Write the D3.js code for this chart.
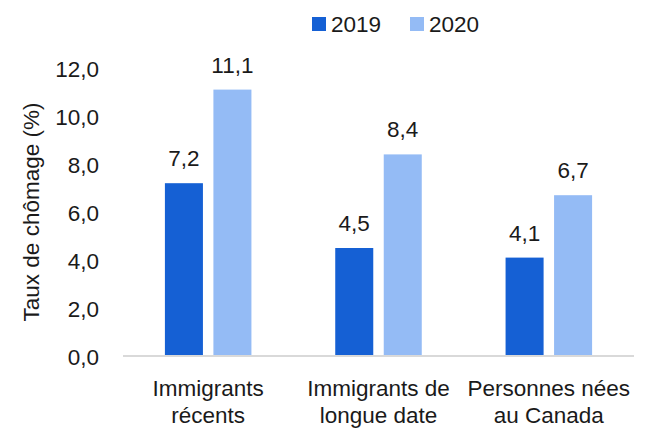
<!DOCTYPE html>
<html>
<head>
<meta charset="utf-8">
<script src="https://cdn.jsdelivr.net/npm/d3@7"></script>
<style>
  body { margin: 0; background: #fff; }
  text { font-family: "Liberation Sans", Arial, sans-serif; fill: #1a1a1a; }
</style>
</head>
<body>
<div class="chart"></div>
<script>
(function() {
    const width = 647
    const height = 429

    const categories = [["Immigrants", "récents"], ["Immigrants de", "longue date"], ["Personnes nées", "au Canada"]]
    const series = ["2019", "2020"]
    const values2019 = [7.2, 4.5, 4.1]
    const values2020 = [11.1, 8.4, 6.7]
    const yTicks = [0, 2, 4, 6, 8, 10, 12]
    const colors = ["#1560d4", "#94bbf5"]

    const margin = {top: 68, right: 13, bottom: 73, left: 123}
    const fontSize = 22.5

    const svg = d3.select(".chart")
        .append('svg')
        .attr('width', width)
        .attr('height', height)
        .attr('viewBox', `0 0 ${width} ${height}`)

    const x = d3.scaleBand()
        .domain(d3.range(categories.length))
        .range([margin.left, width - margin.right])

    const x1 = d3.scaleBand()
        .domain(series)
        .range([0, x.bandwidth()])
        .paddingInner(0.216)
        .paddingOuter(0.864)

    const y = d3.scaleLinear()
        .domain([0, 12])
        .range([height - margin.bottom, margin.top])

    const fmt = v => d3.format(".1f")(v).replace(".", ",")

    // y tick labels (no axis line)
    const yAxis = svg.append('g')
        .attr('transform', `translate(${margin.left - 24},0)`)
        .call(d3.axisLeft(y).tickValues(yTicks).tickFormat(fmt).tickSize(0).tickPadding(0))
    yAxis.select('.domain').remove()
    yAxis.selectAll('text')
        .attr('font-family', null)
        .attr('font-size', fontSize)
        .attr('dy', '0.36em')

    // bars
    const rows = series.map((s, i) => ({s: s, vals: i === 0 ? values2019 : values2020, color: colors[i]}))
    rows.forEach(r => {
        const g = svg.append('g')
        g.selectAll('rect')
            .data(r.vals)
            .join('rect')
            .attr('x', (d, i) => x(i) + x1(r.s))
            .attr('y', d => y(d))
            .attr('width', x1.bandwidth())
            .attr('height', d => y(0) - y(d))
            .attr('fill', r.color)
        g.selectAll('text')
            .data(r.vals)
            .join('text')
            .attr('x', (d, i) => x(i) + x1(r.s) + x1.bandwidth() / 2)
            .attr('y', d => y(d) - 17)
            .attr('text-anchor', 'middle')
            .attr('font-size', fontSize)
            .text(fmt)
    })

    // baseline
    svg.append('line')
        .attr('x1', margin.left)
        .attr('x2', width - margin.right)
        .attr('y1', y(0))
        .attr('y2', y(0))
        .attr('stroke', '#d9d9d9')
        .attr('stroke-width', 2)

    // category labels
    const xl = svg.append('g')
    categories.forEach((c, i) => {
        const cx = x(i) + x.bandwidth() / 2
        const t = xl.append('text')
            .attr('x', cx)
            .attr('y', 396)
            .attr('text-anchor', 'middle')
            .attr('font-size', fontSize)
        c.forEach((line, j) => {
            t.append('tspan')
                .attr('x', cx)
                .attr('dy', j === 0 ? 0 : 27)
                .text(line)
        })
    })

    // y title
    svg.append('text')
        .attr('transform', `translate(39,212) rotate(-90)`)
        .attr('text-anchor', 'middle')
        .attr('font-size', fontSize)
        .text('Taux de chômage (%)')

    // legend
    const legend = svg.append('g')
    const lx = [312, 410]
    series.forEach((s, i) => {
        legend.append('rect')
            .attr('x', lx[i])
            .attr('y', 17)
            .attr('width', 14)
            .attr('height', 14)
            .attr('fill', colors[i])
        legend.append('text')
            .attr('x', lx[i] + 19)
            .attr('y', 32)
            .attr('font-size', fontSize)
            .text(s)
    })
}())
</script>
</body>
</html>
